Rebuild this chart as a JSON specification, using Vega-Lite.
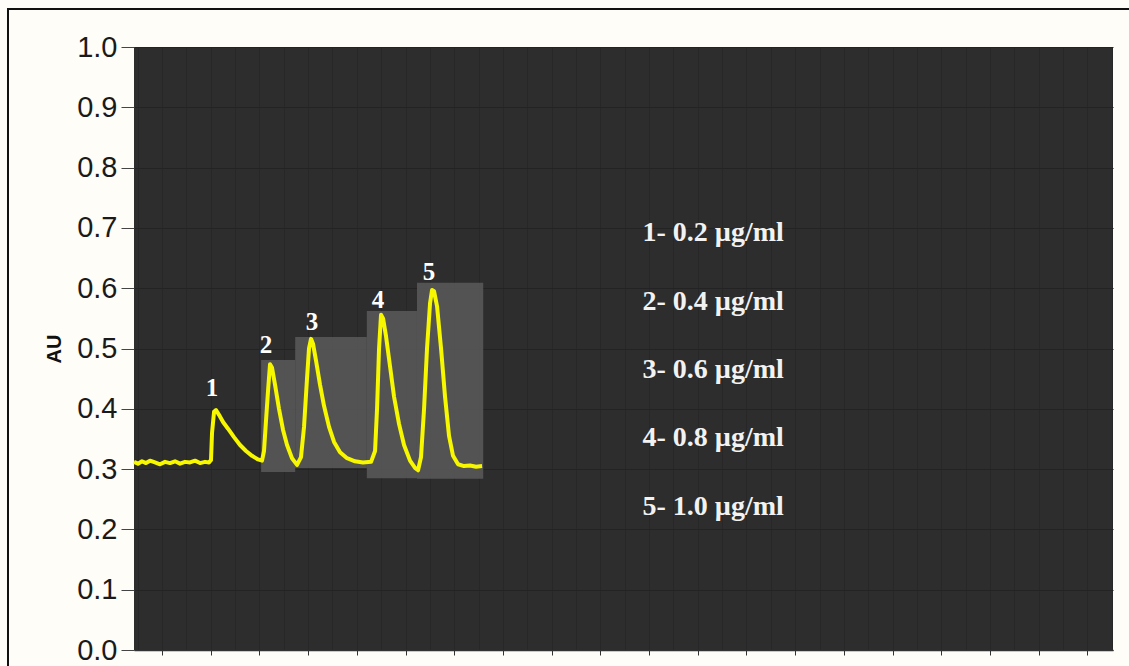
{
  "$schema": "https://vega.github.io/schema/vega-lite/v6.json",
  "width": 979,
  "height": 603,
  "autosize": "none",
  "padding": {"left": 134, "top": 47, "right": 16, "bottom": 16},
  "background": "#fefdf8",
  "config": {"view": {"fill": "#2d2d2d", "stroke": null}},
  "datasets": {
    "frame": [{"x0": -2.587, "x1": 22, "y0": -0.3, "y1": 1.063}],
    "boxes": [
      {"peak": "2", "x0": 2.61, "x1": 3.31, "y0": 0.295, "y1": 0.481},
      {"peak": "3", "x0": 3.31, "x1": 4.78, "y0": 0.302, "y1": 0.519},
      {"peak": "4", "x0": 4.78, "x1": 5.81, "y0": 0.285, "y1": 0.562},
      {"peak": "5", "x0": 5.81, "x1": 7.17, "y0": 0.284, "y1": 0.609}
    ],
    "trace": [
      {"t": 0.0, "v": 0.312}, {"t": 0.082, "v": 0.309}, {"t": 0.164, "v": 0.313}, {"t": 0.246, "v": 0.31},
      {"t": 0.329, "v": 0.314}, {"t": 0.431, "v": 0.311}, {"t": 0.534, "v": 0.308}, {"t": 0.637, "v": 0.312},
      {"t": 0.739, "v": 0.31}, {"t": 0.842, "v": 0.313}, {"t": 0.945, "v": 0.309}, {"t": 1.047, "v": 0.312},
      {"t": 1.15, "v": 0.311}, {"t": 1.253, "v": 0.314}, {"t": 1.355, "v": 0.31}, {"t": 1.458, "v": 0.312},
      {"t": 1.54, "v": 0.311}, {"t": 1.581, "v": 0.315}, {"t": 1.602, "v": 0.36}, {"t": 1.643, "v": 0.395},
      {"t": 1.684, "v": 0.398}, {"t": 1.745, "v": 0.39}, {"t": 1.828, "v": 0.378}, {"t": 1.93, "v": 0.367},
      {"t": 2.053, "v": 0.353}, {"t": 2.177, "v": 0.34}, {"t": 2.3, "v": 0.33}, {"t": 2.423, "v": 0.322},
      {"t": 2.546, "v": 0.316}, {"t": 2.628, "v": 0.314}, {"t": 2.669, "v": 0.33}, {"t": 2.71, "v": 0.38},
      {"t": 2.752, "v": 0.43}, {"t": 2.793, "v": 0.474}, {"t": 2.834, "v": 0.468}, {"t": 2.895, "v": 0.44},
      {"t": 2.977, "v": 0.4}, {"t": 3.06, "v": 0.365}, {"t": 3.142, "v": 0.34}, {"t": 3.244, "v": 0.318},
      {"t": 3.347, "v": 0.307}, {"t": 3.429, "v": 0.32}, {"t": 3.491, "v": 0.37}, {"t": 3.552, "v": 0.45},
      {"t": 3.593, "v": 0.5}, {"t": 3.634, "v": 0.516}, {"t": 3.675, "v": 0.508}, {"t": 3.737, "v": 0.48},
      {"t": 3.819, "v": 0.44}, {"t": 3.901, "v": 0.405}, {"t": 4.004, "v": 0.37}, {"t": 4.107, "v": 0.345},
      {"t": 4.23, "v": 0.328}, {"t": 4.374, "v": 0.318}, {"t": 4.538, "v": 0.313}, {"t": 4.702, "v": 0.311},
      {"t": 4.867, "v": 0.312}, {"t": 4.949, "v": 0.33}, {"t": 4.99, "v": 0.4}, {"t": 5.031, "v": 0.5},
      {"t": 5.072, "v": 0.556}, {"t": 5.113, "v": 0.55}, {"t": 5.175, "v": 0.52}, {"t": 5.257, "v": 0.47},
      {"t": 5.339, "v": 0.42}, {"t": 5.441, "v": 0.375}, {"t": 5.544, "v": 0.34}, {"t": 5.667, "v": 0.314},
      {"t": 5.77, "v": 0.302}, {"t": 5.832, "v": 0.298}, {"t": 5.893, "v": 0.32}, {"t": 5.955, "v": 0.4},
      {"t": 6.016, "v": 0.5}, {"t": 6.078, "v": 0.575}, {"t": 6.119, "v": 0.597}, {"t": 6.16, "v": 0.595},
      {"t": 6.222, "v": 0.57}, {"t": 6.304, "v": 0.5}, {"t": 6.386, "v": 0.42}, {"t": 6.468, "v": 0.355},
      {"t": 6.55, "v": 0.322}, {"t": 6.653, "v": 0.308}, {"t": 6.776, "v": 0.305}, {"t": 6.899, "v": 0.306},
      {"t": 7.023, "v": 0.304}, {"t": 7.146, "v": 0.305}
    ],
    "peaks": [
      {"label": "1", "t": 1.602, "v": 0.435},
      {"label": "2", "t": 2.71, "v": 0.506},
      {"label": "3", "t": 3.655, "v": 0.544},
      {"label": "4", "t": 5.01, "v": 0.58},
      {"label": "5", "t": 6.057, "v": 0.627}
    ],
    "legend": [
      {"label": "1- 0.2 µg/ml", "t": 11.89, "v": 0.692},
      {"label": "2-  0.4 µg/ml", "t": 11.89, "v": 0.577},
      {"label": "3- 0.6 µg/ml", "t": 11.89, "v": 0.464},
      {"label": "4- 0.8 µg/ml", "t": 11.89, "v": 0.352},
      {"label": "5- 1.0 µg/ml", "t": 11.89, "v": 0.237}
    ]
  },
  "layer": [
    {
      "data": {"name": "frame"},
      "mark": {"type": "rect", "fill": null, "stroke": "#111111", "strokeWidth": 2, "clip": false},
      "encoding": {
        "x": {"field": "x0", "type": "quantitative", "scale": {"domain": [0, 20.1]}, "axis": null},
        "x2": {"field": "x1"},
        "y": {"field": "y0", "type": "quantitative", "scale": {"domain": [0, 1]}, "axis": null},
        "y2": {"field": "y1"}
      }
    },
    {
      "data": {"name": "boxes"},
      "mark": {"type": "rect", "fill": "#5a5a5a", "opacity": 0.85},
      "encoding": {
        "x": {"field": "x0", "type": "quantitative", "scale": {"domain": [0, 20.1]},
          "axis": {"orient": "bottom", "title": null, "labels": false, "grid": false,
            "values": [0.575, 1.575, 2.575, 3.575, 4.575, 5.575, 6.575, 7.575, 8.575, 9.575, 10.575, 11.575, 12.575, 13.575, 14.575, 15.575, 16.575, 17.575, 18.575, 19.575],
            "tickSize": 5, "tickColor": "#333333", "domainColor": "#333333", "domainWidth": 1.5}},
        "x2": {"field": "x1"},
        "y": {"field": "y0", "type": "quantitative", "scale": {"domain": [0, 1]},
          "axis": {"orient": "left", "title": "AU", "values": [0, 0.1, 0.2, 0.3, 0.4, 0.5, 0.6, 0.7, 0.8, 0.9, 1.0], "format": ".1f",
            "grid": true, "gridColor": "#232323", "gridWidth": 1.2, "domain": false,
            "tickSize": 13, "tickColor": "#444444", "labelPadding": 4,
            "labelFont": "Liberation Sans", "labelFontSize": 29, "labelColor": "#1a1a1a",
            "titleFont": "Liberation Sans", "titleFontSize": 20, "titleFontWeight": "bold", "titleColor": "#111111", "titlePadding": 12}},
        "y2": {"field": "y1"}
      }
    },
    {
      "data": {"name": "trace"},
      "mark": {"type": "line", "color": "#f7f700", "strokeWidth": 4, "strokeJoin": "round"},
      "encoding": {
        "x": {"field": "t", "type": "quantitative", "scale": {"domain": [0, 20.1]},
          "axis": {"orient": "top", "title": null, "labels": false, "ticks": false, "domain": false, "grid": true,
            "gridColor": "#272727", "gridWidth": 1,
            "values": [0.075, 0.575, 1.075, 1.575, 2.075, 2.575, 3.075, 3.575, 4.075, 4.575, 5.075, 5.575, 6.075, 6.575, 7.075, 7.575, 8.075, 8.575, 9.075, 9.575, 10.075, 10.575, 11.075, 11.575, 12.075, 12.575, 13.075, 13.575, 14.075, 14.575, 15.075, 15.575, 16.075, 16.575, 17.075, 17.575, 18.075, 18.575, 19.075, 19.575, 20.075]}},
        "y": {"field": "v", "type": "quantitative", "scale": {"domain": [0, 1]}, "axis": null}
      }
    },
    {
      "data": {"name": "peaks"},
      "mark": {"type": "text", "font": "Liberation Serif", "fontWeight": "bold", "fontSize": 25, "color": "#ffffff", "baseline": "middle", "align": "center"},
      "encoding": {
        "x": {"field": "t", "type": "quantitative", "scale": {"domain": [0, 20.1]}, "axis": null},
        "y": {"field": "v", "type": "quantitative", "scale": {"domain": [0, 1]}, "axis": null},
        "text": {"field": "label"}
      }
    },
    {
      "data": {"name": "legend"},
      "mark": {"type": "text", "font": "Liberation Serif", "fontWeight": "bold", "fontSize": 28, "color": "#f2f2f2", "baseline": "middle", "align": "center"},
      "encoding": {
        "x": {"field": "t", "type": "quantitative", "scale": {"domain": [0, 20.1]}, "axis": null},
        "y": {"field": "v", "type": "quantitative", "scale": {"domain": [0, 1]}, "axis": null},
        "text": {"field": "label"}
      }
    }
  ],
  "resolve": {"axis": {"x": "independent", "y": "independent"}}
}
